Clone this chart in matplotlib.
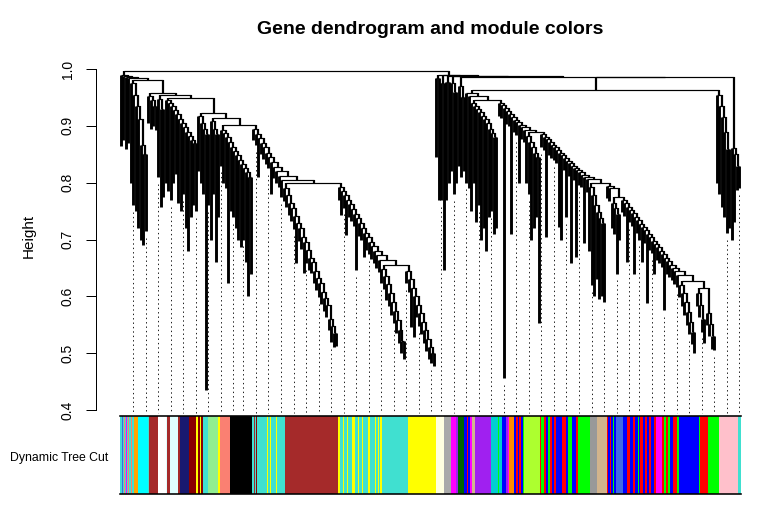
import numpy as np
import matplotlib
matplotlib.use("Agg")
import matplotlib.pyplot as plt
from matplotlib.collections import LineCollection

plt.rcParams['font.family'] = ['Liberation Sans', 'DejaVu Sans']

# ---------------- dendrogram data ----------------
# Each chain: list of (merge height, leaf bottom or sub-chain name).
# Item k joins the cluster formed by items k+1.. at its merge height.
ROOT = [(0.996, "A"), (None, "B")]

A = [(0.990, 0.865), (0.988, 0.875), (0.986, 0.860), (0.984, 0.870), (0.981, "A1"),
     (0.958, "A2"), (0.954, "A3"), (0.949, "A4"), (0.923, "A5"), (0.914, "A6"),
     (0.901, "A7"),
     (0.895, 0.875), (0.886, 0.866), (0.878, 0.810), (0.870, 0.850), (0.862, 0.842),
     (0.853, 0.833), (0.845, 0.825), (0.837, 0.780), (0.828, 0.808), (0.820, 0.800),
     (0.812, 0.792), (0.805, 0.775), (None, "LR")]
A1 = [(0.975, 0.80), (0.955, 0.76), (0.935, 0.75), (0.912, 0.72), (None, "A1b")]
A1b = [(0.866, 0.70), (0.850, 0.69), (None, 0.715)]
A2 = [(0.952, 0.905), (0.945, 0.895), (0.935, 0.900), (None, 0.893)]
A3 = [(0.948, 0.81), (0.930, 0.757), (None, 0.775)]
A4 = [(0.945, 0.80), (0.940, 0.785), (0.935, 0.77), (0.928, 0.80), (0.920, 0.815),
      (0.912, 0.765), (0.905, 0.75), (0.898, 0.78), (0.890, 0.72), (0.882, 0.68),
      (0.875, 0.74), (0.870, 0.76), (None, 0.75)]
A5 = [(0.918, 0.82), (0.905, 0.80), (0.895, 0.78), (0.885, 0.435), (None, 0.76)]
A6 = [(0.908, 0.70), (0.895, 0.78), (0.885, 0.66), (None, 0.74)]
A7 = [(0.893, 0.83), (0.887, 0.80), (0.880, 0.79), (0.872, 0.623), (0.863, 0.75),
      (0.855, 0.74), (0.848, 0.72), (0.840, 0.70), (0.832, 0.687), (0.825, 0.70),
      (0.818, 0.66), (0.810, 0.60), (None, 0.64)]
LR = [(0.799, "L1"), (None, "R1")]
L1 = [(0.790, 0.768), (0.779, 0.757), (0.765, 0.743), (0.755, 0.733), (0.741, 0.719),
      (0.729, 0.659), (0.720, 0.698), (0.705, 0.683), (0.695, 0.641), (0.681, 0.659),
      (0.668, 0.646), (0.660, 0.641), (0.645, 0.623), (0.633, 0.611), (0.624, 0.599),
      (0.608, 0.586), (0.597, 0.575), (0.585, 0.563), (None, "L1b")]
L1b = [(0.560, 0.54), (0.548, 0.52), (0.535, 0.51), (None, 0.512)]
R1 = [(0.792, 0.770), (0.785, 0.743), (0.778, 0.756), (0.770, 0.708), (0.762, 0.740),
      (0.754, 0.732), (0.745, 0.723), (0.737, 0.646), (0.729, 0.707), (0.721, 0.699),
      (0.712, 0.669), (0.704, 0.682), (0.696, 0.674), (0.688, 0.666), (0.680, 0.658),
      (0.672, 0.650), (0.664, 0.642), (None, "R1ab")]
R1ab = [(0.655, "R1a"), (None, "R1b")]
R1a = [(0.648, 0.624), (0.635, 0.613), (0.622, 0.594), (0.605, 0.583), (0.590, 0.568),
       (0.575, 0.553), (0.558, 0.536), (0.540, 0.518), (0.522, 0.500), (None, 0.490)]
R1b = [(0.645, 0.623), (0.630, 0.608), (0.615, 0.546), (0.600, 0.528), (0.585, 0.563),
       (0.570, 0.548), (0.555, 0.533), (0.540, 0.518), (0.525, 0.503), (0.510, 0.490),
       (0.500, 0.482), (None, 0.478)]

B = [(0.990, "B1"), (0.989, "Qb"), (0.988, "Qc"), (0.987, "Qd"), (0.9865, "Qe"),
     (None, "R")]
B1 = [(0.984, 0.845), (None, 0.77)]
Qb = [(0.975, 0.77), (None, 0.647)]
Qc = [(0.978, 0.77), (None, 0.80)]
Qd = [(0.975, 0.82), (0.960, 0.78), (None, 0.80)]
Qe = [(0.970, 0.83), (0.950, 0.81), (None, 0.82)]
R = [(0.986, "P"), (None, "Z")]
P = [(0.963, "Pl"), (None, "Pr")]
Pl = [(0.958, 0.80), (0.952, 0.79), (0.945, "M1"),
      (0.940, 0.918), (0.936, 0.914), (0.931, 0.456), (0.926, 0.904), (0.921, 0.899),
      (0.916, 0.710), (0.911, 0.889), (0.906, 0.884), (0.902, 0.800), (0.898, 0.876),
      (0.893, 0.871), (0.889, "M3"),
      (0.885, 0.863), (0.880, 0.858), (0.876, 0.704), (0.871, 0.849), (0.866, 0.844),
      (0.862, 0.840), (0.857, 0.835), (0.853, 0.722), (0.848, 0.699), (0.844, 0.822),
      (0.839, 0.740), (0.834, 0.812), (0.830, 0.659), (0.826, 0.804), (0.822, 0.670),
      (0.818, 0.796), (0.814, 0.792), (0.810, 0.694), (0.806, 0.784), (None, "M56")]
M1 = [(0.940, 0.75), (0.935, 0.80), (0.930, 0.73), (0.925, 0.76), (0.918, 0.70),
      (0.912, 0.72), (0.905, 0.68), (0.895, 0.74), (0.888, 0.75), (0.880, 0.71),
      (None, 0.72)]
M3 = [(0.882, 0.80), (0.872, 0.78), (0.862, 0.70), (0.852, 0.72), (0.845, 0.74),
      (None, 0.553)]
M56 = [(0.800, "M5"), (None, "M6")]
M5 = [(0.792, 0.68), (0.778, 0.62), (0.760, 0.60), (0.748, 0.63), (0.738, 0.595),
      (0.729, 0.60), (None, 0.59)]
M6 = [(0.795, 0.773), (0.790, 0.768), (0.775, "M6a"), (0.770, 0.748), (0.764, 0.742),
      (0.758, 0.660), (0.752, 0.730), (0.746, 0.724), (0.740, 0.640), (0.734, 0.712),
      (0.728, 0.700), (0.722, 0.660), (0.716, 0.694), (0.710, 0.588), (0.704, 0.682),
      (0.698, 0.676), (0.692, 0.640), (0.686, 0.664), (0.680, 0.658), (0.674, 0.652),
      (0.668, 0.576), (0.662, 0.640), (0.656, 0.634), (0.650, 0.628), (0.644, 0.622),
      (0.638, 0.616), (None, "M6b")]
M6a = [(0.765, 0.72), (0.755, 0.71), (0.745, 0.64), (None, 0.70)]
M6b = [(0.627, "M6c"), (None, "M6de")]
M6c = [(0.620, 0.598), (0.605, 0.583), (0.590, 0.568), (0.572, 0.550), (0.555, 0.533),
       (0.538, 0.516), (None, 0.500)]
M6de = [(0.614, "M6d"), (None, "M6e")]
M6d = [(0.605, 0.583), (0.585, 0.563), (0.560, 0.538), (None, 0.518)]
M6e = [(0.571, 0.549), (0.552, 0.530), (0.530, 0.508), (None, 0.506)]
Pr = [(0.955, 0.80), (0.935, 0.78), (0.915, 0.757), (0.890, 0.74), (0.860, 0.711),
      (None, 0.72)]
Z = [(0.861, 0.70), (0.850, 0.73), (0.829, 0.787), (None, 0.79)]

CHAINS = dict(ROOT=ROOT, A=A, A1=A1, A1b=A1b, A2=A2, A3=A3, A4=A4, A5=A5, A6=A6,
              A7=A7, LR=LR, L1=L1, L1b=L1b, R1=R1, R1ab=R1ab, R1a=R1a, R1b=R1b,
              B=B, B1=B1, Qb=Qb, Qc=Qc, Qd=Qd, Qe=Qe, R=R, P=P, Pl=Pl, M1=M1, M3=M3,
              M56=M56, M5=M5, M6=M6, M6a=M6a, M6b=M6b, M6c=M6c, M6de=M6de, M6d=M6d,
              M6e=M6e, Pr=Pr, Z=Z)

# ---------------- module colour bar data ----------------
bar_colors = [
    "turquoise", "royalblue", "turquoise", "salmon", "turquoise", "magenta", "turquoise",
    "salmon", "turquoise", "salmon", "turquoise", "orange", "cyan", "turquoise", "brown",
    "white", "lightcyan", "brown", "lightcyan", "brown", "midnightblue", "darkred",
    "yellow", "darkred", "yellow", "darkred", "turquoise", "lightgreen", "yellow",
    "salmon", "black", "turquoise", "brown", "turquoise", "darkred", "turquoise",
    "yellow", "turquoise", "yellow", "turquoise", "yellow", "turquoise", "brown",
    "yellow", "turquoise", "yellow", "turquoise", "yellow", "turquoise", "yellow",
    "turquoise", "yellow", "turquoise", "yellow", "turquoise", "yellow", "turquoise",
    "yellow", "turquoise", "yellow", "turquoise", "yellow", "turquoise", "yellow",
    "lightyellow", "darkgrey", "magenta", "purple", "darkgreen", "blue", "red", "blue",
    "magenta", "tan", "purple", "darkturquoise", "green", "darkturquoise", "blue",
    "purple", "magenta", "darkorange", "blue", "red", "blue", "red", "blue", "green",
    "greenyellow", "red", "green", "red", "blue", "green", "red", "blue", "red", "blue",
    "red", "blue", "green", "blue", "red", "green", "grey60", "tan", "red", "blue", "red",
    "blue", "green", "blue", "royalblue", "blue", "red", "blue", "red", "blue", "green",
    "blue", "red", "blue", "red", "blue", "red", "blue", "red", "magenta", "red", "green",
    "red", "green", "blue", "red", "green", "blue", "green", "red", "green", "pink",
    "turquoise"]
bar_widths = [
    2, 1, 1, 1, 1, 1, 1, 1, 2, 1, 2, 4, 10, 1, 9, 8, 1, 3, 8, 2, 9, 7, 2, 2, 1, 2, 5, 10, 2,
    10, 22, 2, 1, 1, 1, 10, 1, 2, 1, 5, 1, 8, 53, 2, 3, 1, 3, 1, 4, 3, 3, 1, 3, 1, 5, 2, 5,
    1, 2, 1, 1, 2, 26, 28, 8, 7, 5, 2, 6, 3, 1, 2, 2, 3, 16, 7, 1, 3, 4, 2, 1, 5, 2, 2, 1,
    2, 2, 1, 16, 1, 3, 2, 2, 2, 2, 2, 2, 6, 4, 2, 4, 4, 2, 12, 7, 10, 1, 2, 1, 2, 1, 2, 7,
    4, 3, 3, 2, 3, 1, 1, 3, 2, 2, 2, 2, 3, 2, 6, 2, 2, 2, 2, 3, 4, 2, 20, 1, 8, 11, 19, 3]

R_COLORS = {"green": "#00FF00", "purple": "#A020F0", "grey60": "#999999",
            "darkgrey": "#A9A9A9"}

y_ticks = [0.4, 0.5, 0.6, 0.7, 0.8, 0.9, 1.0]
y_ticklabels = ["0.4", "0.5", "0.6", "0.7", "0.8", "0.9", "1.0"]
title = "Gene dendrogram and module colors"
ylabel = "Height"
bar_label = "Dynamic Tree Cut"

# ---------------- build tree ----------------
def build(name):
    items = CHAINS[name]
    kids = [build(b) if isinstance(b, str) else {"leaf": True, "bottom": b}
            for _, b in items]
    node = kids[-1]
    for k in range(len(items) - 2, -1, -1):
        node = {"leaf": False, "h": items[k][0], "l": kids[k], "r": node}
    return node

tree = build("ROOT")
leaves = []
def collect(n):
    if n["leaf"]:
        leaves.append(n)
    else:
        collect(n["l"]); collect(n["r"])
collect(tree)
N = len(leaves)
W = float(sum(bar_widths))
for i, lf in enumerate(leaves):
    lf["x"] = (i + 0.5) * W / N

h_segs, v_segs, leaf_segs = [], [], []
def place(n, parent_h):
    if n["leaf"]:
        n["ph"] = parent_h
        leaf_segs.append([(n["x"], parent_h), (n["x"], min(n["bottom"], parent_h - 0.004))])
        return n["x"]
    xl = place(n["l"], n["h"])
    xr = place(n["r"], n["h"])
    x = 0.5 * (xl + xr)
    h_segs.append([(xl, n["h"]), (xr, n["h"])])
    if parent_h is not None:
        v_segs.append([(x, n["h"]), (x, parent_h)])
    return x
place(tree, None)

# ---------------- figure ----------------
FW, FH = 784, 517
fig = plt.figure(figsize=(FW / 100, FH / 100), dpi=100)

def frac(x0, y0, x1, y1):
    return [x0 / FW, 1 - y1 / FH, (x1 - x0) / FW, (y1 - y0) / FH]

ax = fig.add_axes(frac(119.5, 69, 740.5, 410))
ax.set_xlim(0, W)
ax.set_ylim(0.4, 1.0)
px = 0.72
ax.add_collection(LineCollection(h_segs, colors="black", linewidths=1.2 * px))
ax.add_collection(LineCollection(v_segs, colors="black", linewidths=2.2 * px))
ax.add_collection(LineCollection(leaf_segs, colors="black", linewidths=2.9 * px))

# guide lines
guide_idx = np.round(np.linspace(5, N - 1, 50)).astype(int)
g_segs = []
for gi in guide_idx:
    lf = leaves[gi]
    top = min(lf["ph"] - 0.03, lf["bottom"] - 0.012)
    g_segs.append([(lf["x"], top), (lf["x"], 0.395)])
ax.add_collection(LineCollection(g_segs, colors="#222222", linewidths=1.0 * px,
                                 linestyles=[(0, (1.4, 3.0))], clip_on=False))

for s in ["top", "right", "bottom"]:
    ax.spines[s].set_visible(False)
ax.spines["left"].set_position(("outward", 23.5 * px))
ax.spines["left"].set_bounds(0.4, 1.0)
ax.spines["left"].set_linewidth(1.0 * px)
ax.set_xticks([])
ax.set_yticks(y_ticks)
ax.set_yticklabels(y_ticklabels, rotation=90, va="center", fontsize=10)
ax.tick_params(axis="y", length=10 * px, width=1.0 * px, pad=8)

fig.text(430 / FW, 1 - 30 / FH, title, ha="center", va="center",
         fontsize=14, fontweight="bold")
fig.text(29 / FW, 1 - 236 / FH, ylabel, ha="center", va="center", rotation=90,
         fontsize=11)

# colour bar
axc = fig.add_axes(frac(119.5, 416, 740.5, 494))
lefts = np.concatenate([[0], np.cumsum(bar_widths)[:-1]])
cols = [R_COLORS.get(c, c) for c in bar_colors]
axc.bar(lefts, 1.0, width=bar_widths, color=cols, align="edge", linewidth=0)
axc.set_xlim(0, W)
axc.set_ylim(0, 1)
axc.set_xticks([]); axc.set_yticks([])
for s in ["left", "right"]:
    axc.spines[s].set_visible(False)
for s in ["top", "bottom"]:
    axc.spines[s].set_linewidth(1.6 * px)
fig.text(108 / FW, 1 - 458 / FH, bar_label, ha="right", va="center", fontsize=8.8)

fig.savefig("out.png", dpi=100)
